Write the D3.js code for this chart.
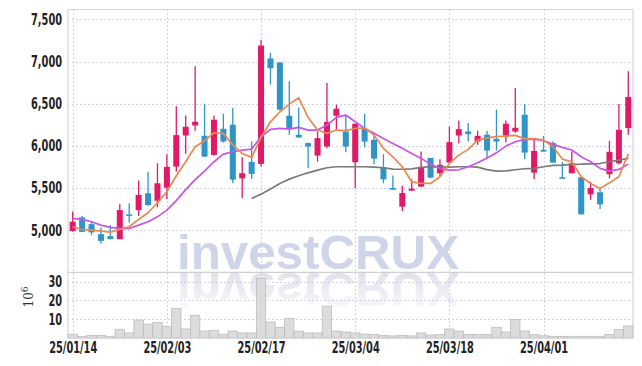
<!DOCTYPE html>
<html>
<head>
<meta charset="utf-8">
<style>
    body { margin: 0; background: #fff; }
    .axis .domain { display: none; }
    .axis text { font-family: "Liberation Sans Narrow", "DejaVu Sans Condensed", "Roboto", sans-serif; font-weight: bold; font-size: 15.5px; fill: #222; }
</style>
<script src="https://cdnjs.cloudflare.com/ajax/libs/d3/7.8.5/d3.min.js"></script>
</head>
<body>
<svg width="642" height="366"></svg>
<script>

    // trading days shown on the chart
    var dates = ["25/01/14","25/01/15","25/01/16","25/01/17","25/01/20","25/01/21","25/01/22","25/01/23","25/01/24","25/01/31",
        "25/02/03","25/02/04","25/02/05","25/02/06","25/02/07","25/02/10","25/02/11","25/02/12","25/02/13","25/02/14",
        "25/02/17","25/02/18","25/02/19","25/02/20","25/02/21","25/02/24","25/02/25","25/02/26","25/02/27","25/02/28",
        "25/03/04","25/03/05","25/03/06","25/03/07","25/03/10","25/03/11","25/03/12","25/03/13","25/03/14","25/03/17",
        "25/03/18","25/03/19","25/03/20","25/03/21","25/03/24","25/03/25","25/03/26","25/03/27","25/03/28","25/03/31",
        "25/04/01","25/04/02","25/04/03","25/04/04","25/04/07","25/04/08","25/04/09","25/04/10","25/04/11","25/04/14"];

    var openPrice = [4990,5151,5071,4952,4929,4893,5187,5238,5437,5349,
        5504,5754,6123,6242,6119,5893,6202,6250,5615,5810,
        5786,7036,6988,6357,6131,6032,5885,5992,6357,6170,
        5806,6202,6071,5746,5500,5278,5468,5516,5857,5675,
        5802,6123,6170,6051,6131,6083,6123,6170,6369,5682,
        5952,6032,5627,5675,5627,5425,5449,5663,5794,6211];
    var highPrice = [5220,5167,5110,5032,5060,5310,5318,5587,5694,5794,
        5901,6468,6361,6944,6500,6361,6381,6448,5865,6051,
        7254,7103,6995,6766,6456,6040,6171,6746,6488,6357,
        6262,6381,6119,5901,5647,5528,5603,5933,5857,5841,
        6230,6301,6270,6179,6179,6429,6301,6687,6496,6079,
        6119,6051,5810,5933,5627,5575,5504,6060,6496,6885];
    var lowPrice = [4980,4975,4940,4842,4893,4893,5092,5167,5290,5270,
        5369,5694,5905,6179,5865,5881,6040,5556,5377,5607,
        5754,6726,6420,6131,6099,5734,5813,5972,6190,5925,
        5496,5984,5782,5556,5480,5226,5468,5516,5615,5635,
        5794,6032,6051,6012,5841,5944,6040,6155,5841,5607,
        5932,5801,5611,5675,5187,5357,5250,5615,5778,6131];
    var closePrice = [5100,4980,4973,4873,4893,5238,5170,5417,5298,5556,
        5750,6127,6226,6286,5873,6310,6051,5599,5675,5667,
        7190,6921,6429,6199,6099,5992,6091,6282,6440,5992,
        6262,6051,5849,5603,5480,5440,5492,5750,5623,5774,
        6044,6198,6139,6119,5944,6051,6262,6214,5920,5940,
        5932,5801,5611,5794,5187,5500,5306,5929,6190,6580];

    // volume, millions of shares
    var volume = [2.0,0.9,1.4,1.4,0.9,4.6,2.7,9.6,7.4,8.3,
        6.2,15.8,4.8,12.1,3.7,4.1,2.0,3.7,2.7,2.7,
        31.7,8.5,5.7,10.5,3.7,2.7,2.7,17.0,3.7,3.2,
        2.7,2.1,1.8,1.4,1.1,1.4,1.1,2.7,1.6,1.8,
        4.8,3.7,1.8,1.8,1.8,5.7,3.2,9.9,3.7,1.8,
        1.2,0.9,0.9,0.9,0.9,0.9,0.9,1.8,4.6,6.4];

    // moving average lines
    var ma5 = [5040,5008,5000,4988,4976,5008,5040,5127,5206,5325,
        5455,5645,5811,5990,6060,6155,6148,6009,5910,5863,
        6100,6285,6404,6495,6570,6337,6187,6148,6187,6180,
        6206,6214,6127,5970,5870,5752,5573,5554,5554,5633,
        5791,5890,5958,6068,6095,6109,6115,6124,6085,6085,
        6068,5989,5843,5811,5633,5554,5495,5561,5633,5905];
    var ma10 = [5139,5127,5099,5059,5032,5020,5020,5059,5099,5158,
        5237,5350,5480,5600,5700,5811,5902,5930,5950,5962,
        6108,6195,6207,6199,6219,6187,6187,6246,6337,6365,
        6286,6207,6148,6088,6029,5970,5910,5851,5783,5732,
        5712,5716,5752,5799,5855,5917,5997,6048,6076,6080,
        6060,6020,5981,5950,5870,5811,5732,5700,5720,5783];
    var ma20 = [null,null,null,null,null,null,null,null,null,null,
        null,null,null,null,null,null,null,null,null,5376,
        5427,5487,5554,5605,5645,5680,5712,5740,5752,5752,
        5752,5752,5748,5740,5724,5722,5726,5744,5752,5750,
        5748,5752,5752,5748,5718,5700,5704,5716,5728,5732,
        5752,5768,5772,5780,5782,5787,5790,5811,5831,5851];

    var priceTicks = [5000,5500,6000,6500,7000,7500];
    var volumeTicks = [10,20,30];
    var dateTicks = [0,10,20,30,40,50];

    var svg = d3.select("svg"),
        plotLeft = 68, plotRight = 633, plotTop = 9.5, plotSplit = 272.3, plotBottom = 338;

    var x = d3.scaleBand()
        .domain(d3.range(dates.length))
        .range([plotLeft, plotRight]);

    var y = d3.scaleLinear()
        .domain([4500, 7617])
        .range([plotSplit, plotTop]);

    var yv = d3.scaleLinear()
        .domain([0, 35])
        .range([plotBottom, plotSplit]);

    function cx(i) { return x(i) + x.bandwidth() / 2; }

    svg.append("rect").attr("width", 642).attr("height", 366).attr("fill", "#fff");

    // watermark and its reflection
    var defs = svg.append("defs");
    var grad = defs.append("linearGradient")
        .attr("id", "fade")
        .attr("gradientUnits", "userSpaceOnUse")
        .attr("x1", 0).attr("y1", plotSplit + 2).attr("x2", 0).attr("y2", plotSplit - 38);
    grad.append("stop").attr("offset", 0).attr("stop-color", "#e0e1ec").attr("stop-opacity", 1);
    grad.append("stop").attr("offset", 1).attr("stop-color", "#e0e1ec").attr("stop-opacity", 0.15);

    svg.append("text")
        .attr("x", 177).attr("y", 269)
        .attr("font-family", "Liberation Sans, Arial, sans-serif")
        .attr("font-weight", "bold")
        .attr("font-size", 49)
        .attr("textLength", 282)
        .attr("lengthAdjust", "spacingAndGlyphs")
        .attr("fill", "#cfd5e9")
        .text("investCRUX");

    svg.append("g")
        .attr("transform", "translate(0," + (2 * plotSplit + 3) + ") scale(1,-1)")
        .append("text")
        .attr("x", 177).attr("y", plotSplit + 2)
        .attr("font-family", "Liberation Sans, Arial, sans-serif")
        .attr("font-weight", "bold")
        .attr("font-size", 49)
        .attr("textLength", 282)
        .attr("lengthAdjust", "spacingAndGlyphs")
        .attr("fill", "url(#fade)")
        .text("investCRUX");

    // grid lines
    var grid = svg.append("g")
        .attr("stroke", "#c3c8de")
        .attr("stroke-dasharray", "1.5,2.5")
        .attr("stroke-width", 1);

    grid.selectAll(".hp").data(priceTicks).enter().append("line")
        .attr("x1", plotLeft).attr("x2", plotRight)
        .attr("y1", function (d) { return Math.round(y(d)) + 0.5; })
        .attr("y2", function (d) { return Math.round(y(d)) + 0.5; });

    grid.selectAll(".hv").data(volumeTicks).enter().append("line")
        .attr("x1", plotLeft).attr("x2", plotRight)
        .attr("y1", function (d) { return Math.round(yv(d)) + 0.5; })
        .attr("y2", function (d) { return Math.round(yv(d)) + 0.5; });

    grid.selectAll(".vx").data(dateTicks).enter().append("line")
        .attr("x1", function (d) { return Math.round(cx(d)) + 0.5; })
        .attr("x2", function (d) { return Math.round(cx(d)) + 0.5; })
        .attr("y1", plotTop).attr("y2", plotBottom);

    // frame
    var frame = svg.append("g").attr("stroke", "#d4d4dc").attr("stroke-width", 1.2).attr("fill", "none");
    frame.append("path").attr("d", "M" + plotLeft + "," + plotBottom + "V" + plotTop + "H" + plotRight + "V" + plotBottom);
    frame.append("line").attr("x1", plotLeft).attr("x2", plotRight).attr("y1", plotSplit).attr("y2", plotSplit).attr("stroke", "#cfcfcf");

    // volume bars
    svg.append("g").selectAll("rect")
        .data(volume)
        .enter().append("rect")
        .attr("x", function (d, i) { return x(i); })
        .attr("y", function (d) { return yv(d); })
        .attr("width", x.bandwidth())
        .attr("height", function (d) { return plotBottom - yv(d); })
        .attr("fill", "#d6d6d6")
        .attr("fill-opacity", 0.85)
        .attr("stroke", "#bdbdbd")
        .attr("stroke-width", 0.8);

    svg.append("line")
        .attr("x1", plotLeft).attr("x2", plotRight).attr("y1", plotBottom).attr("y2", plotBottom)
        .attr("stroke", "#d4d4dc");

    // candles
    var up = "#e01a66", down = "#2e95c6";
    var bw = x.bandwidth() * 0.64;

    var candle = svg.append("g").selectAll("g")
        .data(d3.range(dates.length))
        .enter().append("g");

    candle.append("line")
        .attr("x1", cx).attr("x2", cx)
        .attr("y1", function (i) { return y(highPrice[i]); })
        .attr("y2", function (i) { return y(lowPrice[i]); })
        .attr("stroke", function (i) { return closePrice[i] > openPrice[i] ? up : down; })
        .attr("stroke-width", 1.3);

    candle.append("rect")
        .attr("x", function (i) { return cx(i) - bw / 2; })
        .attr("y", function (i) { return y(Math.max(openPrice[i], closePrice[i])); })
        .attr("width", bw)
        .attr("height", function (i) { return Math.max(1.5, Math.abs(y(openPrice[i]) - y(closePrice[i]))); })
        .attr("fill", function (i) { return closePrice[i] > openPrice[i] ? up : down; });

    // moving averages
    function maLine(values, color) {
        var line = d3.line()
            .defined(function (d) { return d != null; })
            .x(function (d, i) { return cx(i); })
            .y(function (d) { return y(d); });
        svg.append("path")
            .datum(values)
            .attr("fill", "none")
            .attr("stroke", color)
            .attr("stroke-width", 1.7)
            .attr("stroke-linejoin", "round")
            .attr("d", line);
    }
    maLine(ma20, "#7a7a7a");
    maLine(ma10, "#c655e6");
    maLine(ma5, "#ee8650");

    // axes
    svg.append("g")
        .attr("class", "axis")
        .attr("transform", "translate(" + plotLeft + ",0)")
        .call(d3.axisLeft(y).tickValues(priceTicks).tickSize(0).tickPadding(6).tickFormat(d3.format(",")));

    svg.append("g")
        .attr("class", "axis")
        .attr("transform", "translate(" + plotLeft + ",0)")
        .call(d3.axisLeft(yv).tickValues(volumeTicks).tickSize(0).tickPadding(6));

    var xAxis = d3.axisBottom(d3.scalePoint().domain(d3.range(dates.length)).range([cx(0), cx(dates.length - 1)]))
        .tickValues(dateTicks)
        .tickSize(0)
        .tickPadding(4)
        .tickFormat(function (i) { return dates[i]; });

    svg.append("g")
        .attr("class", "axis")
        .attr("transform", "translate(0," + plotBottom + ")")
        .call(xAxis);

    // squeeze the axis labels to the narrow face used in the chart
    var sample = svg.select(".axis:last-of-type .tick text").node();
    var squeeze = 48 / sample.getComputedTextLength();
    svg.selectAll(".axis .tick text").each(function () {
        var w = this.getComputedTextLength();
        d3.select(this).attr("textLength", w * squeeze).attr("lengthAdjust", "spacingAndGlyphs");
    });

    // units label for the volume panel
    var unit = svg.append("text")
        .attr("transform", "translate(33,297) rotate(-90)")
        .attr("text-anchor", "middle")
        .attr("font-family", "DejaVu Serif, serif")
        .attr("font-size", 12)
        .attr("fill", "#333");
    unit.append("tspan").text("10");
    unit.append("tspan").attr("dy", -5).attr("font-size", 9).text("6");

</script>
</body>
</html>
